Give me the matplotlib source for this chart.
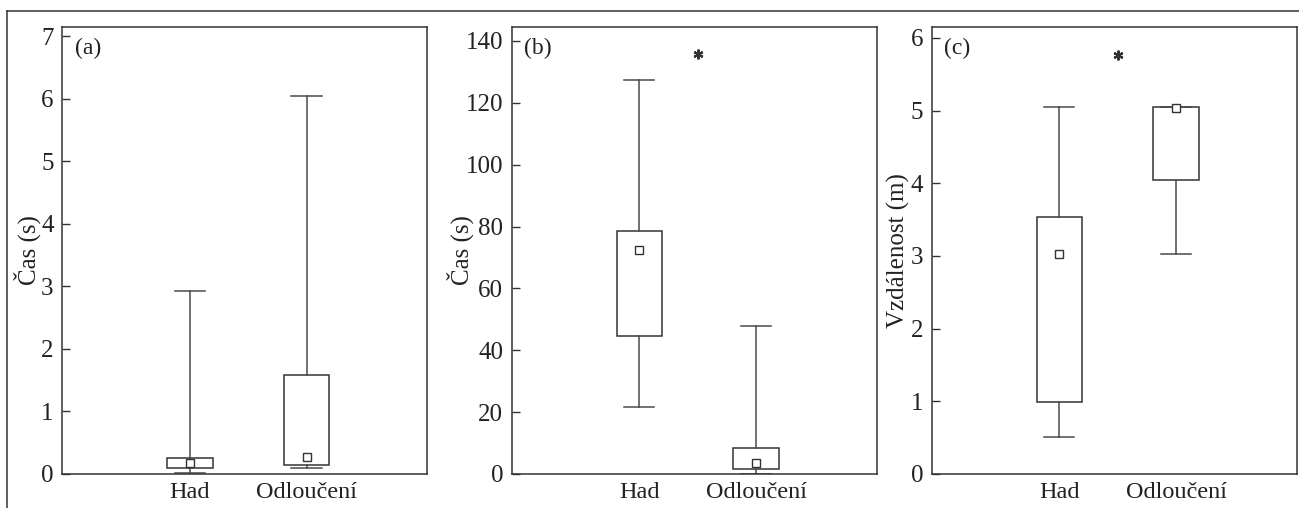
import matplotlib
matplotlib.use("Agg")
import matplotlib.pyplot as plt
from matplotlib.lines import Line2D

plt.rcParams['font.family'] = ['Liberation Serif', 'DejaVu Serif']

categories = ["Had", "Odloučení"]

# panel (a) - Čas (s)
a_whislo = [0.02, 0.10]
a_q1 = [0.09, 0.15]
a_q3 = [0.26, 1.59]
a_whishi = [2.93, 6.05]
a_mean = [0.18, 0.27]

# panel (b) - Čas (s)
b_whislo = [21.5, 0.0]
b_q1 = [44.5, 1.6]
b_q3 = [78.5, 8.5]
b_whishi = [127.3, 47.8]
b_mean = [72.3, 3.5]
b_star = (1.5, 135.7)

# panel (c) - Vzdálenost (m)
c_whislo = [0.51, 3.03]
c_q1 = [0.99, 4.05]
c_q3 = [3.53, 5.05]
c_whishi = [5.05, 5.05]
c_mean = [3.02, 5.04]
c_star = (1.5, 5.76)

panel_labels = ["(a)", "(b)", "(c)"]
ylabels = ["Čas (s)", "Čas (s)", "Vzdálenost (m)"]
ylims = [(0, 7.15), (0, 144.5), (0, 6.15)]
yticks = [list(range(0, 8)), list(range(0, 141, 20)), list(range(0, 7))]

panels = [
    (a_whislo, a_q1, a_q3, a_whishi, a_mean, None),
    (b_whislo, b_q1, b_q3, b_whishi, b_mean, b_star),
    (c_whislo, c_q1, c_q3, c_whishi, c_mean, c_star),
]

W, H = 1299, 508
fig = plt.figure(figsize=(W / 100, H / 100), dpi=100)

ink = '#333333'
wink = '#4a4a4a'
txt = '#222222'
lefts_px = [62, 511.5, 931.5]
ax_w_px = 365
bottom = (H - 474) / H
top = (H - 27) / H
label_x = [-0.058, -0.104, -0.058]

for i, (wlo, q1, q3, whi, mn, star) in enumerate(panels):
    ax = fig.add_axes([lefts_px[i] / W, bottom, ax_w_px / W, top - bottom])
    stats = []
    for j, cat in enumerate(categories):
        stats.append(dict(label=cat, whislo=wlo[j], q1=q1[j], med=q1[j],
                          q3=q3[j], whishi=whi[j], mean=mn[j], fliers=[]))
    ax.bxp(stats, positions=[1, 2], widths=0.39, capwidths=0.26,
           showmeans=True, showfliers=False, patch_artist=True,
           boxprops=dict(facecolor='white', edgecolor=ink, linewidth=1.1),
           whiskerprops=dict(color=wink, linewidth=1.1),
           capprops=dict(color=wink, linewidth=1.1),
           medianprops=dict(linewidth=0),
           meanprops=dict(marker='s', markerfacecolor='white',
                          markeredgecolor=ink, markersize=5.5,
                          markeredgewidth=1.0))
    if star is not None:
        ax.plot([star[0]], [star[1]], marker=(6, 2, 0), color=ink,
                markersize=7, markeredgewidth=1.6, linestyle='none')
    ax.set_xlim(-0.094, 3.031)
    ax.set_ylim(*ylims[i])
    ax.set_yticks(yticks[i])
    ax.set_xticks([1, 2])
    ax.set_xticklabels(categories)
    ax.tick_params(axis='y', direction='in', length=6, width=1.0, color=ink,
                   labelsize=18, pad=6, labelcolor=txt)
    ax.tick_params(axis='x', length=0, labelsize=17.5, pad=6,
                   labelcolor=txt)
    for s in ax.spines.values():
        s.set_color(ink)
        s.set_linewidth(1.1)
    ax.set_ylabel(ylabels[i], fontsize=18, color=txt)
    ax.yaxis.set_label_coords(label_x[i], 0.5)
    ax.text(0.035, 0.975, panel_labels[i], transform=ax.transAxes,
            ha='left', va='top', fontsize=17, color=txt)

# outer frame lines (top and left)
fig.add_artist(Line2D([7 / W, 1.0], [1 - 11 / H, 1 - 11 / H],
                      transform=fig.transFigure, color=ink, linewidth=1.1))
fig.add_artist(Line2D([7 / W, 7 / W], [0, 1 - 11 / H],
                      transform=fig.transFigure, color=ink, linewidth=1.1))

fig.savefig("out.png", dpi=100)
